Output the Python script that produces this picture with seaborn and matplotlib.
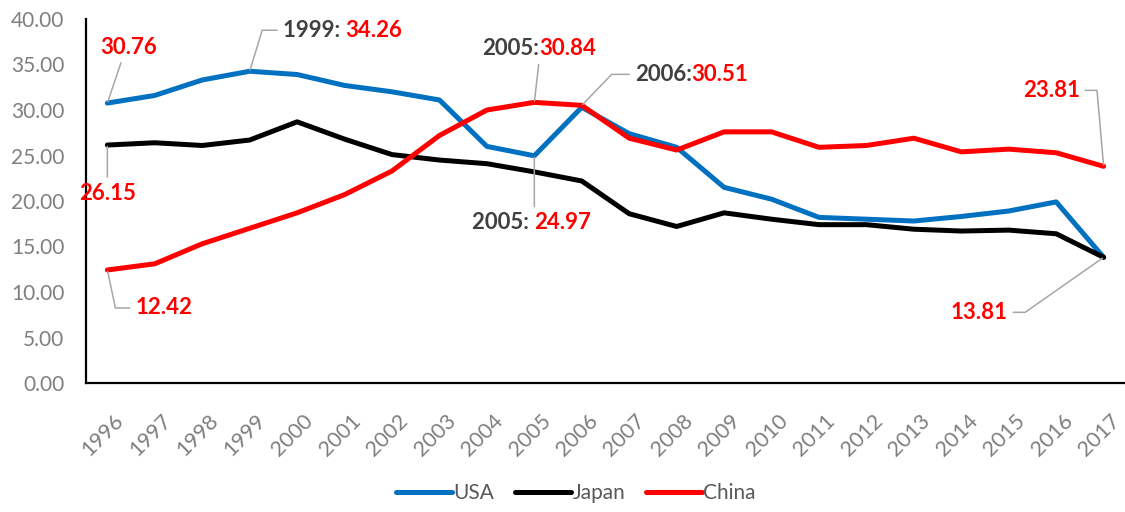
import matplotlib
matplotlib.use('Agg')
import matplotlib.pyplot as plt
import seaborn as sns
import pandas as pd
from matplotlib.transforms import ScaledTranslation

# data
years = list(range(1996, 2018))
usa = [30.76, 31.6, 33.3, 34.26, 33.9, 32.7, 32.0, 31.1, 26.0, 24.97, 30.3,
       27.4, 25.9, 21.5, 20.2, 18.2, 18.0, 17.8, 18.3, 18.9, 19.9, 13.81]
japan = [26.15, 26.4, 26.1, 26.7, 28.7, 26.8, 25.1, 24.5, 24.1, 23.2, 22.2,
         18.6, 17.2, 18.7, 18.0, 17.4, 17.4, 16.9, 16.7, 16.8, 16.4, 13.81]
china = [12.42, 13.1, 15.3, 17.0, 18.7, 20.7, 23.3, 27.2, 30.0, 30.84, 30.51,
         26.9, 25.6, 27.6, 27.6, 25.9, 26.1, 26.9, 25.4, 25.7, 25.3, 23.81]
countries = ['USA', 'Japan', 'China']
colors = {'USA': '#0070C0', 'Japan': '#000000', 'China': '#FF0000'}

df = pd.DataFrame({
    'year': years * 3,
    'value': usa + japan + china,
    'country': [c for c in countries for _ in years],
})

sns.set_style('white')
plt.rcParams['font.family'] = ['Lato', 'DejaVu Sans']

fig = plt.figure(figsize=(11.25, 5.12), dpi=100)
ax = fig.add_axes([86 / 1125, 129 / 512, 1 - 86 / 1125, 364 / 512])

sns.lineplot(data=df, x='year', y='value', hue='country', palette=colors,
             linewidth=3.6, ax=ax, sort=False)
for line in ax.lines:
    line.set_solid_joinstyle('round')
    line.set_solid_capstyle('round')

handles, labels = ax.get_legend_handles_labels()
ax.get_legend().remove()
fig.legend(handles, labels, loc='center', bbox_to_anchor=(576 / 1125, 19 / 512),
           ncol=3, frameon=False, fontsize=15, handlelength=2.7,
           handletextpad=0.05, columnspacing=1.0, labelcolor='#595959')

# axes
ax.set_ylim(0, 40)
ax.set_yticks(range(0, 41, 5))
ax.set_yticklabels([f'{v:.2f}' for v in range(0, 41, 5)])
ax.set_xlim(1995.55, 2017.45)
ax.set_xticks(years)
ax.set_xticklabels(years, rotation=45, ha='right', rotation_mode='anchor')
ax.set_xticks([y + 0.5 for y in years[:-1]], minor=True)
ax.set_xlabel('')
ax.set_ylabel('')
sns.despine(ax=ax)
for s in ['left', 'bottom']:
    ax.spines[s].set_linewidth(1.6)
    ax.spines[s].set_color('black')
ax.tick_params(axis='y', direction='inout', length=7, width=1.5, color='black',
               labelsize=15, labelcolor='#7f7f7f', pad=12)
ax.tick_params(axis='x', which='major', length=0, labelsize=15.5,
               labelcolor='#7f7f7f', pad=20)
ax.tick_params(axis='x', which='minor', direction='in', length=6, width=1.5,
               color='black')
for lab in ax.get_xticklabels():
    lab.set_transform(lab.get_transform() + ScaledTranslation(6 / 100, 0, fig.dpi_scale_trans))


def note(year, val, prefix, offset, ha, relpos, conn='arc3'):
    arrow = dict(arrowstyle='-', color='#a6a6a6', lw=1.1, connectionstyle=conn,
                 shrinkA=4, shrinkB=1)
    kw = dict(fontsize=16, fontweight='bold', va='center')
    if prefix:
        t = ax.annotate(prefix, xy=(year, val), xytext=offset,
                        textcoords='offset pixels', ha=ha, color='#404040', **kw)
        ax.annotate(f'{val:.2f}', xy=(1, 0.5), xycoords=t, ha='left',
                    color='#FF0000', **kw)
    else:
        t = ax.annotate(f'{val:.2f}', xy=(year, val), xytext=offset,
                        textcoords='offset pixels', ha=ha, color='#FF0000', **kw)
    # leader line from the label edge to the data point
    ax.annotate('', xy=(year, val), xytext=relpos, textcoords=t,
                arrowprops=arrow)


note(1996, usa[0], '', (21, 56), 'center', (0.4, 0))
note(1996, japan[0], '', (0, -48), 'center', (0.5, 1))
note(1996, china[0], '', (28, -38), 'left', (0, 0.5), 'angle,angleA=0,angleB=102,rad=0')
note(1999, usa[3], '1999: ', (33, 41), 'left', (0, 0.5), 'angle,angleA=0,angleB=73,rad=0')
note(2005, china[9], '2005:', (5, 54), 'right', (1, 0))
note(2006, china[10], '2006:', (53, 31), 'left', (0, 0.5), 'angle,angleA=0,angleB=46,rad=0')
note(2005, usa[9], '2005: ', (0, -67), 'right', (1, 1))
note(2017, china[-1], '', (-24, 76), 'right', (1, 0.5), 'angle,angleA=0,angleB=95,rad=0')
note(2017, japan[-1], '', (-96, -55), 'right', (1, 0.5), 'angle,angleA=0,angleB=35,rad=0')

fig.savefig('out.png', dpi=100)
